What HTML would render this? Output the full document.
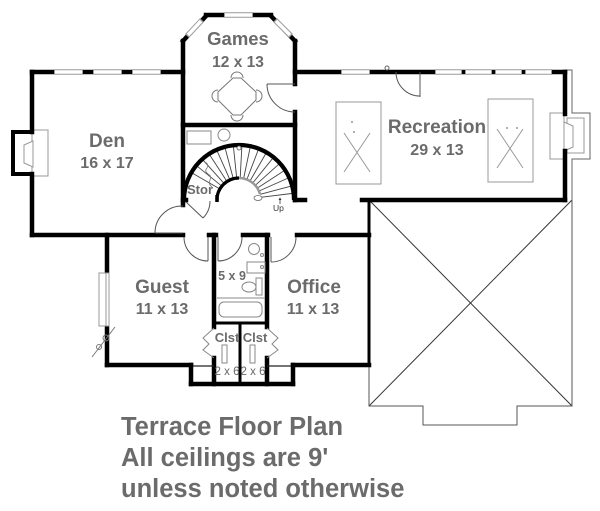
<!DOCTYPE html>
<html><head><meta charset="utf-8"><style>
html,body{margin:0;padding:0;background:#fff;}
body{width:600px;height:511px;overflow:hidden;}
svg{display:block;}
.t{font-family:"Liberation Sans",Arial,sans-serif;font-weight:bold;fill:#6b6b6b;}
</style></head><body>
<svg width="600" height="511" viewBox="0 0 600 511" xmlns="http://www.w3.org/2000/svg">
<rect width="600" height="511" fill="#fff"/>

<!-- Roof -->
<g stroke="#333" stroke-width="1" fill="none">
<line x1="369" y1="200" x2="572" y2="406"/>
<line x1="572" y1="200" x2="369" y2="406"/>
<polyline points="572,200 572,406 517,406 517,425 423,425 423,406 369,406 369,365" stroke="#555"/>
</g>
<!-- right thin chimney outline -->
<polyline points="565,70 572,70 572,113 590,113 590,159 572,159 572,200" fill="none" stroke="#666" stroke-width="1"/>
<rect x="567" y="118" width="17" height="35" fill="none" stroke="#999" stroke-width="1"/>
<rect x="550" y="113" width="14" height="46" fill="none" stroke="#999" stroke-width="1"/>
<polygon points="564,122 573,126 573,147 564,151" fill="#fff" stroke="#999" stroke-width="1"/>

<!-- Left fireplace -->
<rect x="32" y="130" width="16" height="46" fill="none" stroke="#999" stroke-width="1"/>
<polygon points="24,145 33,141 33,167 24,163" fill="#fff" stroke="#999" stroke-width="1"/>

<!-- Walls -->
<g stroke="#000" stroke-width="4.5" stroke-linecap="square" fill="none">
<line x1="32" y1="72" x2="183" y2="72"/>
<line x1="32" y1="72" x2="32" y2="132"/>
<line x1="32" y1="174" x2="32" y2="235"/>
<line x1="32" y1="235" x2="183" y2="235"/>
<polyline points="32,132 13,132 13,174 32,174" stroke-linecap="butt" stroke-width="4"/>
<line x1="183" y1="41" x2="183" y2="205"/>
<line x1="183" y1="41" x2="206" y2="16"/>
<line x1="206" y1="15" x2="271" y2="15"/>
<line x1="271" y1="16" x2="295" y2="41"/>
<line x1="295" y1="41" x2="295" y2="84"/>
<line x1="295" y1="112" x2="295" y2="200"/>
<line x1="183" y1="125" x2="295" y2="125"/>
<line x1="183" y1="200" x2="186" y2="200"/>
<line x1="295" y1="200" x2="305" y2="200"/>
<line x1="295" y1="72" x2="565" y2="72"/>
<line x1="565" y1="72" x2="565" y2="114"/>
<line x1="565" y1="151" x2="565" y2="200"/>
<line x1="362" y1="200" x2="565" y2="200"/>
<line x1="209" y1="235" x2="216" y2="235"/>
<line x1="243" y1="235" x2="268" y2="235"/>
<line x1="297" y1="235" x2="369" y2="235"/>
<line x1="107" y1="235" x2="107" y2="272"/>
<line x1="107" y1="326" x2="107" y2="365"/>
<line x1="107" y1="365" x2="191" y2="365"/>
<line x1="191" y1="365" x2="191" y2="384"/>
<line x1="191" y1="384" x2="293" y2="384"/>
<line x1="293" y1="384" x2="293" y2="365"/>
<line x1="293" y1="365" x2="369" y2="365"/>
<line x1="214" y1="235" x2="214" y2="327"/>
<line x1="214" y1="358" x2="214" y2="384"/>
<line x1="267" y1="235" x2="267" y2="327"/>
<line x1="267" y1="358" x2="267" y2="384"/>
</g>
<line x1="369" y1="200" x2="369" y2="366" stroke="#000" stroke-width="3"/>
<line x1="216" y1="323" x2="265" y2="323" stroke="#000" stroke-width="3"/>
<line x1="240" y1="323" x2="240" y2="384" stroke="#000" stroke-width="3"/>
<g stroke="#222" stroke-width="1.2" fill="none">
<line x1="193" y1="366" x2="214" y2="366"/>
<line x1="267" y1="366" x2="291" y2="366"/>
</g>

<!-- Windows -->
<g stroke="#9a9a9a" stroke-width="5.5" stroke-linecap="butt">
<line x1="54" y1="72" x2="83" y2="72"/>
<line x1="93" y1="72" x2="122" y2="72"/>
<line x1="132" y1="72" x2="161" y2="72"/>
<line x1="224" y1="15" x2="253" y2="15"/>
<line x1="187" y1="36" x2="202" y2="20"/>
<line x1="275" y1="20" x2="291" y2="36"/>
<line x1="341" y1="72" x2="370" y2="72"/>
<line x1="435" y1="72" x2="462" y2="72"/>
<line x1="465" y1="72" x2="492" y2="72"/>
<line x1="495" y1="72" x2="522" y2="72"/>
<line x1="525" y1="72" x2="552" y2="72"/>
</g>
<g stroke="#fff" stroke-width="3.5" stroke-linecap="butt">
<line x1="55" y1="72" x2="82" y2="72"/>
<line x1="94" y1="72" x2="121" y2="72"/>
<line x1="133" y1="72" x2="160" y2="72"/>
<line x1="225" y1="15" x2="252" y2="15"/>
<line x1="188" y1="35" x2="201" y2="21"/>
<line x1="276" y1="21" x2="290" y2="35"/>
<line x1="342" y1="72" x2="369" y2="72"/>
<line x1="436" y1="72" x2="461" y2="72"/>
<line x1="466" y1="72" x2="491" y2="72"/>
<line x1="496" y1="72" x2="521" y2="72"/>
<line x1="526" y1="72" x2="551" y2="72"/>
</g>
<circle cx="387" cy="68" r="2" fill="#fff" stroke="#666" stroke-width="1"/>
<rect x="99" y="273" width="10" height="53" fill="#fff" stroke="#999" stroke-width="1"/>
<line x1="106" y1="273" x2="106" y2="326" stroke="#999" stroke-width="1"/>
<line x1="92" y1="357" x2="115" y2="327" stroke="#777" stroke-width="1"/>
<circle cx="106" cy="338" r="3" fill="none" stroke="#777" stroke-width="1"/>
<circle cx="99" cy="347" r="2.5" fill="none" stroke="#777" stroke-width="1"/>

<!-- Doors -->
<g stroke="#555" stroke-width="1" fill="none">
<path d="M267,84 A28,28 0 0 0 295,112"/><line x1="295" y1="84" x2="267" y2="84"/>
<path d="M396,72 A24,24 0 0 0 420,96"/><line x1="420" y1="72" x2="420" y2="97"/>
<path d="M155,233 A27,27 0 0 1 183,206"/><line x1="183" y1="233" x2="155" y2="233"/>
<path d="M184,237 A24,24 0 0 0 208,261"/><line x1="208" y1="237" x2="208" y2="261"/>
<path d="M218,261 A24,24 0 0 0 242,237"/><line x1="218" y1="237" x2="218" y2="261"/>
<path d="M271,262 A25,25 0 0 0 296,237"/><line x1="271" y1="237" x2="271" y2="262"/>
<path d="M203,218 A24,24 0 0 0 210,201"/><line x1="186" y1="202" x2="203" y2="218"/>
</g>

<!-- Games table -->
<g stroke="#777" stroke-width="1" fill="none">
<polygon points="233,78 241,78 256,92 256,100 241,115 233,115 218,100 218,92" fill="#fff"/>
<path d="M231,78 A6,6 0 0 1 243,78"/>
<path d="M256,90 A6,6 0 0 1 256,102"/>
<path d="M243,115 A6,6 0 0 1 231,115"/>
<path d="M218,102 A6,6 0 0 1 218,90"/>
</g>

<!-- Billiard tables -->
<g stroke="#999" stroke-width="1" fill="none">
<rect x="336" y="102" width="45" height="82"/>
<line x1="344" y1="133" x2="370" y2="172"/>
<line x1="370" y1="133" x2="344" y2="172"/>
<rect x="488" y="99" width="45" height="83"/>
<line x1="497" y1="129" x2="523" y2="168"/>
<line x1="523" y1="129" x2="497" y2="168"/>
</g>
<g fill="#999"><circle cx="352" cy="122" r="1"/><circle cx="354" cy="132" r="1"/><circle cx="507" cy="128" r="1"/><circle cx="517" cy="128" r="1"/></g>

<!-- Stair -->
<rect x="187" y="131" width="24" height="13" fill="none" stroke="#888" stroke-width="1"/>
<circle cx="224" cy="135" r="6" fill="none" stroke="#888" stroke-width="1"/>
<g stroke="#444" stroke-width="0.9">
<line x1="219.9" y1="189" x2="193" y2="173.5"/>
<line x1="221.9" y1="186.2" x2="197.8" y2="166.7"/>
<line x1="224.3" y1="183.7" x2="203.5" y2="160.6"/>
<line x1="227" y1="181.5" x2="210.1" y2="155.5"/>
<line x1="230" y1="179.9" x2="217.4" y2="151.6"/>
<line x1="233.3" y1="178.7" x2="225.3" y2="148.8"/>
<line x1="236.7" y1="178.1" x2="233.5" y2="147.3"/>
<line x1="240.2" y1="178" x2="241.8" y2="147.1"/>
<line x1="243.6" y1="178.5" x2="250" y2="148.2"/>
<line x1="246.9" y1="179.5" x2="258" y2="150.5"/>
<line x1="250" y1="181" x2="265.5" y2="154.1"/>
<line x1="252.8" y1="182.9" x2="272.3" y2="158.8"/>
<line x1="255.3" y1="185.3" x2="278.4" y2="164.6"/>
<line x1="257.5" y1="188" x2="283.5" y2="171.1"/>
<line x1="259.1" y1="191" x2="287.4" y2="178.4"/>
<line x1="260.3" y1="194.3" x2="290.2" y2="186.3"/>
<line x1="260.8" y1="197.3" x2="291.6" y2="193.5"/>
</g>
<path d="M184,200 A55,55 0 0 1 294,200" fill="none" stroke="#000" stroke-width="4.2"/>
<path d="M217,201 A22,22 0 0 1 239,178" fill="none" stroke="#000" stroke-width="3.2"/>
<path d="M239,178 A22,22 0 0 1 260,194" fill="none" stroke="#999" stroke-width="2.5"/>
<line x1="217" y1="195" x2="217" y2="202" stroke="#000" stroke-width="3.5"/>
<circle cx="239" cy="148" r="2" fill="#fff" stroke="#555" stroke-width="0.8"/>
<ellipse cx="258" cy="198" rx="4" ry="2.5" fill="#fff" stroke="#666" stroke-width="0.8"/>
<path d="M205,162 q4,2 2,6 q-3,3 1,6 q4,2 2,6 q-2,4 2,7" fill="none" stroke="#777" stroke-width="0.8"/>
<line x1="280" y1="198" x2="280" y2="204" stroke="#333" stroke-width="0.8"/>
<path d="M278.5,200 L280,197.5 L281.5,200 Z" fill="#333"/>

<!-- Bath fixtures -->
<g stroke="#888" stroke-width="1" fill="none">
<circle cx="254" cy="249" r="5.5"/>
<circle cx="262" cy="255" r="1.5"/>
<circle cx="262" cy="267" r="1.5"/>
<rect x="247" y="262" width="18" height="11"/>
<ellipse cx="249" cy="287" rx="7" ry="5"/>
<rect x="256" y="278" width="6" height="17"/>
<line x1="217" y1="298" x2="265" y2="298"/>
<rect x="219" y="302" width="43" height="15" rx="5"/>
<rect x="222" y="345" width="5" height="18"/>
<rect x="250" y="345" width="5" height="18"/>
<polyline points="214,328 203,338 209,344 203,350 214,358"/>
<polyline points="267,328 278,338 272,344 278,350 267,358"/>
</g>

<!-- Labels -->
<text class="t" x="238" y="45" font-size="18.5" text-anchor="middle">Games</text>
<text class="t" x="238" y="67" font-size="15.5" text-anchor="middle">12 x 13</text>
<text class="t" x="107" y="147" font-size="19" text-anchor="middle">Den</text>
<text class="t" x="107" y="168" font-size="16" text-anchor="middle">16 x 17</text>
<text class="t" x="437" y="133" font-size="19" text-anchor="middle">Recreation</text>
<text class="t" x="437" y="155" font-size="16" text-anchor="middle">29 x 13</text>
<text class="t" x="162" y="293" font-size="19" text-anchor="middle">Guest</text>
<text class="t" x="162" y="314" font-size="16" text-anchor="middle">11 x 13</text>
<text class="t" x="314" y="293" font-size="19" text-anchor="middle">Office</text>
<text class="t" x="313" y="314" font-size="16" text-anchor="middle">11 x 13</text>
<text class="t" x="232" y="280" font-size="12.5" text-anchor="middle">5 x 9</text>
<text class="t" x="227" y="342" font-size="13" text-anchor="middle">Clst</text>
<text class="t" x="255" y="342" font-size="13" text-anchor="middle">Clst</text>
<text x="227" y="375" font-size="11.5" text-anchor="middle" font-family="Liberation Sans, sans-serif" fill="#666">2 x 6</text>
<text x="253" y="375" font-size="11.5" text-anchor="middle" font-family="Liberation Sans, sans-serif" fill="#666">2 x 6</text>
<text class="t" x="187" y="194" font-size="13">Stor</text>
<text x="273" y="211" font-size="8.5" font-family="Liberation Sans, sans-serif" fill="#333">Up</text>

<text class="t" x="121" y="435" font-size="25.5" fill="#686868">Terrace Floor Plan</text>
<text class="t" x="121" y="466" font-size="25.5" fill="#686868">All ceilings are 9'</text>
<text class="t" x="121" y="497" font-size="25.5" fill="#686868">unless noted otherwise</text>
</svg>
</body></html>
